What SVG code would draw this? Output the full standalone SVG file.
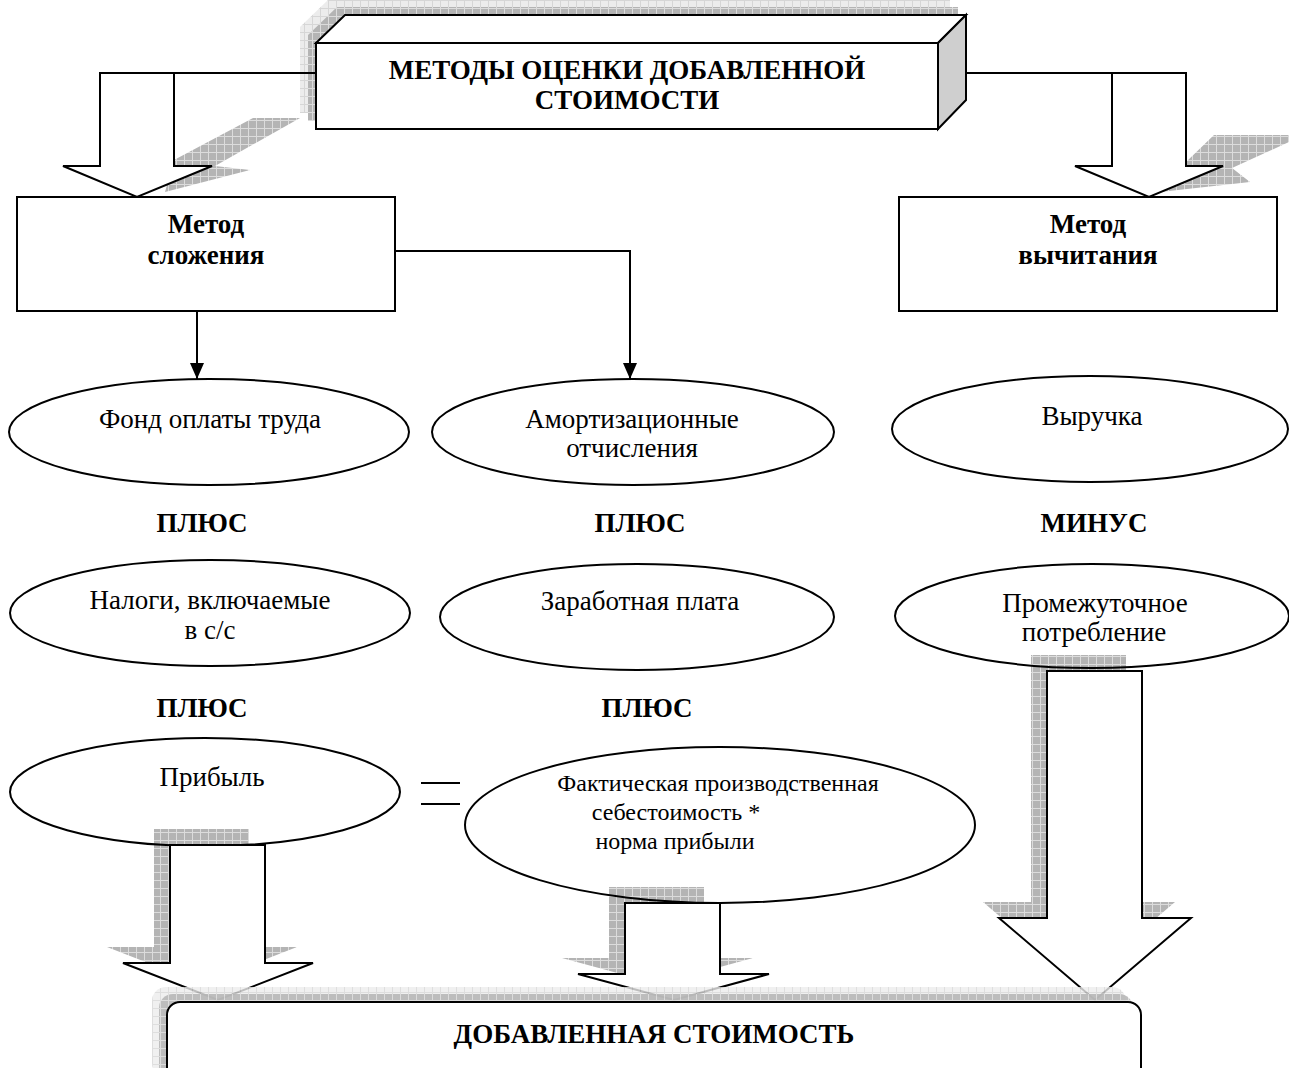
<svg xmlns="http://www.w3.org/2000/svg" width="1289" height="1068" viewBox="0 0 1289 1068">
<defs>
<pattern id="hd" width="8" height="8" patternUnits="userSpaceOnUse">
<rect width="8" height="8" fill="#b4b4b4"/>
<path d="M0 0.5H8M0.5 0V8" stroke="#dcdcdc" stroke-width="1"/>
</pattern>
<pattern id="hl" width="8" height="8" patternUnits="userSpaceOnUse">
<rect width="8" height="8" fill="#ececec"/>
<path d="M0 0.5H8M0.5 0V8" stroke="#d6d6d6" stroke-width="1"/>
</pattern>
<marker id="ah" markerWidth="16" markerHeight="14" refX="16" refY="7" orient="auto" markerUnits="userSpaceOnUse" viewBox="0 0 16 14">
<path d="M0 0L16 7L0 14Z" fill="#000"/>
</marker>
<style>
.s{fill:#fff;stroke:#000;stroke-width:2;stroke-linejoin:miter}
.e{fill:none;stroke:#000;stroke-width:2}
.l{fill:none;stroke:#000;stroke-width:2}
.t{font-family:"Liberation Serif","Times New Roman",serif;font-size:27px;text-anchor:middle;fill:#000}
.b{font-weight:bold;font-size:27px}
.f{font-size:24px}
</style>
</defs>
<rect width="1289" height="1068" fill="#fff"/>

<g id="shadows">
<path d="M300 27L329 -1L950 -1V84L922 113H300Z" fill="url(#hl)"/>
<path d="M308 35L337 7L958 7V92L930 121H308Z" fill="url(#hd)"/>
<polygon points="174,160 253,118 300,118 215,166 250,170 165,192" fill="url(#hd)"/>
<polygon points="1186,162 1214,135 1289,135 1289,142 1232,168 1250,182 1160,192" fill="url(#hd)"/>
<path d="M154 829H249V947H297L202 984L107 947H154Z" fill="url(#hd)"/>
<path d="M609 887H704V958H753L658 984L562 958H609Z" fill="url(#hd)"/>
<path d="M1031 655H1126V902H1175L1079 984L983 902H1031Z" fill="url(#hd)"/>
</g>

<g id="connectors">
<path class="s" d="M316 73H100V166H63L137 197L212 166H174V73"/>
<path class="s" d="M966 73H1186V166H1223L1149 197L1075 166H1112V73"/>
<path class="l" d="M197 311V379" marker-end="url(#ah)"/>
<path class="l" d="M395 251H630V379" marker-end="url(#ah)"/>
<path class="l" d="M421 783H460M421 804H460"/>
</g>

<g id="title">
<polygon class="s" points="316,43 345,15 966,15 938,43"/>
<polygon points="938,43 966,15 966,100 938,129" fill="#cfcfcf" stroke="#000" stroke-width="2"/>
<rect class="s" x="316" y="43" width="622" height="86"/>
<text class="t b" x="627" y="79" font-size="28">МЕТОДЫ ОЦЕНКИ ДОБАВЛЕННОЙ</text>
<text class="t b" x="627" y="109" font-size="28">СТОИМОСТИ</text>
</g>

<g id="n-slozh">
<rect class="s" x="17" y="197" width="378" height="114"/>
<text class="t b" x="206" y="233">Метод</text>
<text class="t b" x="206" y="264">сложения</text>
</g>
<g id="n-vych">
<rect class="s" x="899" y="197" width="378" height="114"/>
<text class="t b" x="1088" y="233">Метод</text>
<text class="t b" x="1088" y="264">вычитания</text>
</g>

<g id="n-fond">
<ellipse class="e" cx="209" cy="432" rx="200" ry="53"/>
<text class="t" x="210" y="428">Фонд оплаты труда</text>
</g>
<g id="n-amort">
<ellipse class="e" cx="633" cy="432" rx="201" ry="53"/>
<text class="t" x="632" y="428">Амортизационные</text>
<text class="t" x="632" y="457">отчисления</text>
</g>
<g id="n-vyr">
<ellipse class="e" cx="1090" cy="429" rx="198" ry="53"/>
<text class="t" x="1092" y="425">Выручка</text>
</g>

<text class="t b" x="202" y="532">ПЛЮС</text>
<text class="t b" x="640" y="532">ПЛЮС</text>
<text class="t b" x="1094" y="532">МИНУС</text>

<g id="n-nalog">
<ellipse class="e" cx="210" cy="613" rx="200" ry="53"/>
<text class="t" x="210" y="609">Налоги, включаемые</text>
<text class="t" x="210" y="639">в с/с</text>
</g>
<g id="n-zarp">
<ellipse class="e" cx="637" cy="617" rx="197" ry="53"/>
<text class="t" x="640" y="610">Заработная плата</text>
</g>
<g id="n-prom">
<ellipse class="e" cx="1092" cy="616" rx="197" ry="52"/>
<text class="t" x="1095" y="612">Промежуточное</text>
<text class="t" x="1094" y="641">потребление</text>
</g>

<text class="t b" x="202" y="717">ПЛЮС</text>
<text class="t b" x="647" y="717">ПЛЮС</text>

<g id="n-prib">
<ellipse class="e" cx="205" cy="792" rx="195" ry="54"/>
<text class="t" x="212" y="786">Прибыль</text>
</g>
<g id="n-fakt">
<ellipse class="e" cx="720" cy="825" rx="255" ry="78"/>
<text class="t f" x="718" y="791">Фактическая производственная</text>
<text class="t f" x="676" y="820">себестоимость *</text>
<text class="t f" x="675" y="849">норма прибыли</text>
</g>

<g id="arrows-down">
<path class="s" d="M170 845H265V963H313L218 1000L123 963H170Z"/>
<path class="s" d="M625 903H720V974H769L674 1000L578 974H625Z"/>
<path class="s" d="M1047 671H1142V918H1191L1095 1000L999 918H1047Z"/>
</g>

<g id="n-total">
<rect x="152" y="987" width="974" height="90" rx="14" fill="url(#hl)" opacity="0.8"/>
<rect x="159" y="994" width="974" height="90" rx="14" fill="url(#hd)" opacity="0.85"/>
<rect class="s" x="167" y="1002" width="974" height="80" rx="13"/>
<text class="t b" x="654" y="1043">ДОБАВЛЕННАЯ СТОИМОСТЬ</text>
</g>
</svg>
